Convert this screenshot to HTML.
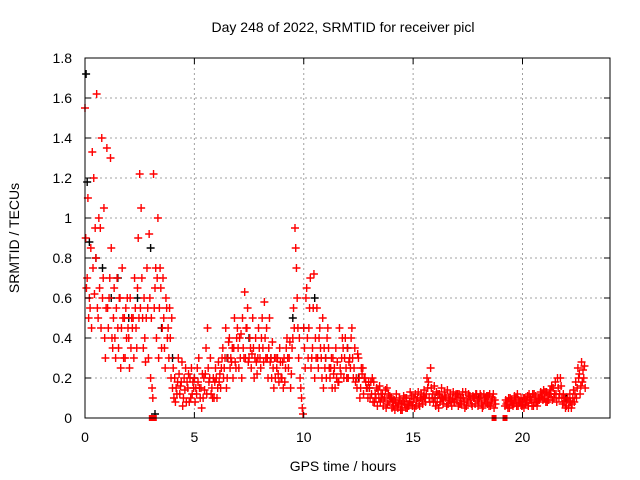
<!DOCTYPE html>
<html><head><meta charset="utf-8"><style>
body{margin:0;background:#fff}
svg{display:block;font-family:"Liberation Sans",sans-serif}
</style></head><body>
<svg id="chart" width="640" height="480">
<rect width="640" height="480" fill="#fff"/>
<text x="343" y="32" font-size="14" text-anchor="middle">Day 248 of 2022, SRMTID for receiver picl</text>
<text x="343" y="471" font-size="14" text-anchor="middle">GPS time / hours</text>
<text transform="translate(19,238) rotate(-90)" font-size="14" text-anchor="middle">SRMTID / TECUs</text>
<g id="grid"></g>
<g id="marks"></g>
<rect x="85" y="58" width="525" height="360" fill="none" stroke="#000" stroke-width="1"/>
<g id="ticks"></g>
</svg>
<script>
const xTicks=[0,5,10,15,20];
const yTicks=[0,0.2,0.4,0.6,0.8,1,1.2,1.4,1.6,1.8];
const yTickLabels=["0","0.2","0.4","0.6","0.8","1","1.2","1.4","1.6","1.8"];
const redA=[1.55,0.7,0.6,0.45,1.2,0.8,0.5,0.95,0.6,0.4, 1.35,0.6,0.85,0.5,0.3,0.45,0.6,0.75,0.5,0.4, 0.4,0.35,0.5,0.55,0.65,1.22,0.7,0.6,0.5,0.3, 0.2,0.1,0.65,0.7,0.55,0.35,0.5,0.6,0.45,0.4, 0.15,0.2,0.12,0.22,0.18,0.1,0.25,0.15,0.2,0.12, 0.2,0.12,0.3,0.15,0.1,0.22,0.45,0.2,0.15,0.1, 0.2,0.28,0.15,0.35,0.3,0.2,0.4,0.28,0.35,0.25, 0.35,0.3,0.5,0.63,0.45,0.3,0.25,0.35,0.4,0.3, 0.3,0.5,0.58,0.45,0.35,0.3,0.25,0.2,0.3,0.35, 0.2,0.3,0.35,0.25,0.15,0.4,0.95,0.6,0.4,0.1, 0.45,0.6,0.3,0.7,0.35,0.2,0.55,0.4,0.3,0.15, 0.3,0.45,0.2,0.15,0.25,0.2,0.18,0.22,0.35,0.4, 0.35,0.3,0.45,0.25,0.2,0.3,0.15,0.25,0.2,0.15, 0.15,0.12,0.18,0.1,0.14,0.08,0.12,0.1,0.15,0.08, 0.1,0.06,0.08,0.05,0.09,0.04,0.07,0.1,0.06,0.08, 0.08,0.12,0.1,0.06,0.09,0.14,0.12,0.18,0.25,0.12, 0.1,0.08,0.12,0.15,0.09,0.1,0.07,0.12,0.1,0.08, 0.09,0.12,0.07,0.1,0.13,0.08,0.11,0.06,0.1,0.12, 0.08,0.11,0.06,0.1,0.07,0.12,0.09,0.05,null,null, null,null,0.06,0.08,0.05,0.09,0.07,0.1,0.06,0.08, 0.07,0.1,0.08,0.12,0.09,0.06,0.11,0.08,0.1,0.12, 0.1,0.13,0.09,0.12,0.15,0.18,0.2,0.12,0.1,0.08, 0.06,0.05,0.08,0.1,0.12,0.15,0.22,0.28,0.2];
const redB=[0.9,1.1,0.55,1.33,0.62,1.62,1.0,0.45,0.7,0.3, 0.55,0.7,0.4,0.65,0.55,0.35,0.25,0.5,0.3,0.6, 0.25,0.5,0.3,0.45,0.9,0.55,0.5,0.4,0.75,0.92, 0.5,1.22,0.75,1.0,0.75,0.45,0.35,0.55,0.3,0.2, 0.25,0.08,0.18,0.12,0.28,0.2,0.08,0.22,0.1,0.18, 0.08,0.25,0.15,0.05,0.2,0.35,0.25,0.3,0.1,0.18, 0.1,0.18,0.25,0.2,0.45,0.3,0.25,0.35,0.5,0.4, 0.25,0.42,0.35,0.3,0.55,0.4,0.32,0.2,0.28,0.45, 0.25,0.35,0.4,0.3,0.5,0.2,0.15,0.3,0.22,0.28, 0.28,0.18,0.4,0.3,0.22,0.55,0.85,0.45,0.2,0.05, 0.35,0.65,0.45,0.25,0.55,0.4,0.3,0.45,0.2,0.35, 0.2,0.35,0.25,0.3,0.15,0.28,0.45,0.3,0.2,0.25, 0.2,0.25,0.3,0.35,0.15,0.2,0.25,0.12,0.18,0.1, 0.1,0.2,0.08,0.15,0.1,0.12,0.06,0.14,0.07,0.11, 0.05,0.09,0.12,0.07,0.04,0.08,0.1,0.05,0.08,0.11, 0.1,0.06,0.13,0.1,0.07,0.1,0.2,0.1,0.15,0.08, 0.06,0.12,0.08,0.1,0.13,0.06,0.1,0.08,0.13,0.11, 0.12,0.07,0.1,0.08,0.06,0.12,0.09,0.11,0.07,0.09, 0.1,0.07,0.12,0.08,0.11,0.06,0.1,0.09,null,null, null,null,0.09,0.05,0.1,0.07,0.11,0.06,0.09,0.1, 0.1,0.07,0.11,0.09,0.06,0.12,0.08,0.1,0.13,0.09, 0.13,0.08,0.12,0.16,0.1,0.12,0.15,0.2,0.07,0.1, 0.09,0.08,0.05,0.14,0.18,0.25,0.12,0.18,0.26];
const redC=[0.65,0.5,0.85,0.75,0.95,0.55,0.65,1.4,1.05,0.55, 0.45,1.3,0.35,0.4,0.7,0.6,0.45,0.3,0.55,0.45, 0.6,0.45,0.7,0.35,0.5,1.05,0.35,0.28,0.55,0.6, 0.15,0.55,0.4,0.3,0.65,0.7,0.25,0.4,0.55,0.5, 0.1,0.15,0.3,0.16,0.06,0.14,0.18,0.08,0.25,0.15, 0.15,0.18,0.1,0.22,0.14,0.12,0.18,0.12,0.2,0.25, 0.15,0.22,0.3,0.25,0.15,0.38,0.3,0.2,0.28,0.45, 0.4,0.2,0.3,0.45,0.28,0.35,0.5,0.3,0.22,0.35, 0.4,0.28,0.3,0.2,0.28,0.38,0.3,0.25,0.18,0.2, 0.15,0.25,0.3,0.38,0.35,0.45,0.75,0.3,0.15,0.02, 0.25,0.4,0.55,0.3,0.72,0.3,0.25,0.35,0.5,0.25, 0.4,0.25,0.3,0.22,0.35,0.18,0.25,0.4,0.3,0.2, 0.28,0.4,0.2,0.18,0.32,0.1,0.22,0.2,0.15,0.18, 0.18,0.08,0.12,0.06,0.16,0.1,0.09,0.05,0.12,0.1, 0.08,0.04,0.06,0.1,0.07,0.11,0.05,0.07,0.13,0.06, 0.05,0.09,0.07,0.12,0.11,0.08,0.15,0.08,0.1,0.16, 0.13,0.05,0.1,0.07,0.11,0.14,0.09,0.06,0.08,0.12, 0.06,0.1,0.13,0.05,0.09,0.11,0.07,0.1,0.12,0.06, 0.12,0.05,0.09,0.11,0.06,0.08,0.12,0.07,null,null, null,null,0.07,0.1,0.08,0.06,0.09,0.12,0.08,0.06, 0.05,0.09,0.06,0.1,0.12,0.08,0.06,0.09,0.11,0.14, 0.08,0.11,0.14,0.09,0.12,0.08,0.1,0.16,0.12,0.05, 0.1,0.12,0.07,0.08,0.1,0.2,0.16,0.24,0.15];
const blackT=[0.05,0.1,0.2,0.5,0.8,1.2,1.5,2,2.4,3,3.2,3.5,4,5,6.5,7.5,8.5,9.5,10,10.5,11,12,12.5,13,14,16,18,20,22];
const blackV=[1.72,1.18,0.88,0.8,0.75,0.6,0.7,0.5,0.6,0.85,0.02,0.45,0.3,0.2,0.3,0.4,0.3,0.5,0.45,0.6,0.3,0.35,0.2,0.15,0.1,0.1,0.1,0.08,0.1];
const gapMarkers=[3.1,18.7,19.2];
const tStep=0.1;

const NS="http://www.w3.org/2000/svg";
const X=t=>85+t*525/24;
const Y=v=>418-v*200;
const grid=document.getElementById('grid'),ticks=document.getElementById('ticks'),marks=document.getElementById('marks');
function mk(tag,attrs,parent){const e=document.createElementNS(NS,tag);for(const k in attrs)e.setAttribute(k,attrs[k]);parent.appendChild(e);return e;}
xTicks.forEach(t=>{
  if(t>0){const g=mk('line',{x1:X(t),x2:X(t),y1:58,y2:418,stroke:'#a0a0a0','stroke-dasharray':'2,3'},grid);
  
  }
  const a=mk('line',{x1:X(t),x2:X(t),y1:418,y2:412,stroke:'#000'},ticks);
  
  
  const b=mk('line',{x1:X(t),x2:X(t),y1:58,y2:64,stroke:'#000'},ticks);
  
  
  const l=mk('text',{x:X(t),y:442,'font-size':14,'text-anchor':'middle'},ticks);l.textContent=t;
  
  
});
yTicks.forEach((v,i)=>{
  if(v>0&&v<1.8){const g=mk('line',{x1:85,x2:610,y1:Y(v),y2:Y(v),stroke:'#a0a0a0','stroke-dasharray':'2,3'},grid);
  
  }
  const a=mk('line',{x1:85,x2:91,y1:Y(v),y2:Y(v),stroke:'#000'},ticks);
  
  
  const b=mk('line',{x1:604,x2:610,y1:Y(v),y2:Y(v),stroke:'#000'},ticks);
  
  
  const l=mk('text',{x:72,y:Y(v)+5,'font-size':14,'text-anchor':'end'},ticks);l.textContent=yTickLabels[i];
  
  
});
function plus(t,v,color,name){
  const x=X(t),y=Y(v);
  const p=mk('path',{d:`M${x-4},${y}h8M${x},${y-4}v8`,stroke:color,'stroke-width':1.4,fill:'none'},marks);
  
  
}
blackT.forEach((t,i)=>plus(t,blackV[i],'#000','black-point'));
[redA,redB,redC].forEach((arr,k)=>arr.forEach((v,i)=>{
  if(v===null)return;
  plus(i*tStep+k*0.033,v,'#ff0000','red-point');
}));
gapMarkers.forEach((t,i)=>{
  const w=i===0?8:5;
  const r=mk('rect',{x:X(t)-w/2,y:415,width:w,height:6,fill:'#ff0000'},marks);
  
  
});
</script>
</body></html>
